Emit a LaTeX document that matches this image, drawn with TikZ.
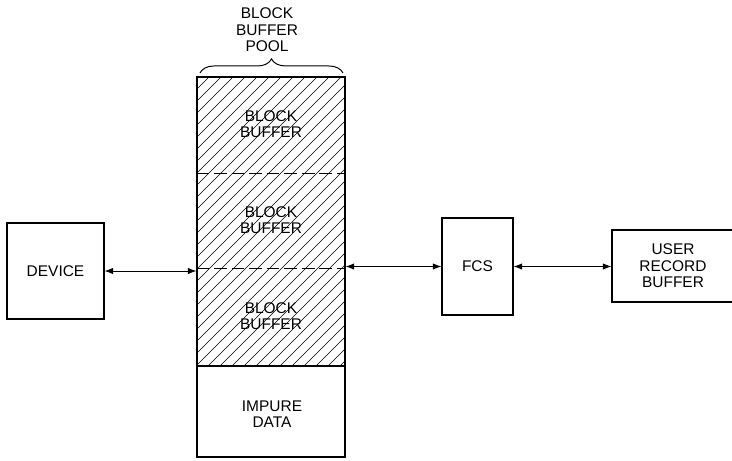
\documentclass[tikz,border=0pt]{standalone}
\usepackage{fontspec}
\setmainfont{Liberation Sans}
\usetikzlibrary{arrows.meta,decorations.pathreplacing}

\tikzset{
  box/.style={draw, line width=.8pt, inner sep=0pt, align=center},
  lbl/.style={align=center, font=\fontsize{11}{11.8}\selectfont},
  link/.style={line width=.6pt, {Latex[length=6pt,width=4.5pt]}-{Latex[length=6pt,width=4.5pt]}},
  hatch/.style={line width=.4pt},
  split/.style={line width=.7pt, dash pattern=on 9pt off 3.5pt}
}

\begin{document}
\begin{tikzpicture}[x=0.025cm,y=-0.025cm]
\useasboundingbox (0,0) rectangle (732,461);
% hatching of the three block buffers
\begin{scope}
\clip (197,77) rectangle (345,366);
\foreach \a in {-92,-80,...,345} \draw[hatch] (\a,366) -- ++(289,-289);
\end{scope}
\node[box, minimum width=3.7cm, minimum height=9.5cm] (pool) at (271,267) {};
\draw[split] (pool.west |- 0,173) -- (pool.east |- 0,173);
\draw[split] (pool.west |- 0,268) -- (pool.east |- 0,268);
\draw[line width=.8pt] (pool.west |- 0,366) -- (pool.east |- 0,366);
\node[lbl] (buf1) at (271,124) {BLOCK\\BUFFER};
\node[lbl] (buf2) at (271,220) {BLOCK\\BUFFER};
\node[lbl] (buf3) at (271,316) {BLOCK\\BUFFER};
\node[lbl] (impure) at (272,414) {IMPURE\\DATA};
% pool title and brace
\node[lbl] (title) at (267,30) {BLOCK\\BUFFER\\POOL};
\coordinate (bl) at (200,73);
\coordinate (br) at (343,73);
\draw[line width=.7pt, decorate, decoration={brace, amplitude=10pt}] (bl) -- (br);
% side boxes
\node[box, lbl, minimum width=2.425cm, minimum height=2.4cm] (device) at (55.5,271) {DEVICE};
\node[box, lbl, minimum width=1.775cm, minimum height=2.425cm] (fcs) at (477.5,266.5) {FCS};
\node[box, lbl, minimum width=3.05cm, minimum height=1.8cm] (user) at (673,266) {USER\\RECORD\\BUFFER};
% connectors
\draw[link] (device.east) -- (device.east -| pool.west);
\draw[link] (fcs.west -| pool.east) -- (fcs.west);
\draw[link] (fcs.east) -- (fcs.east -| user.west);
\end{tikzpicture}
\end{document}
